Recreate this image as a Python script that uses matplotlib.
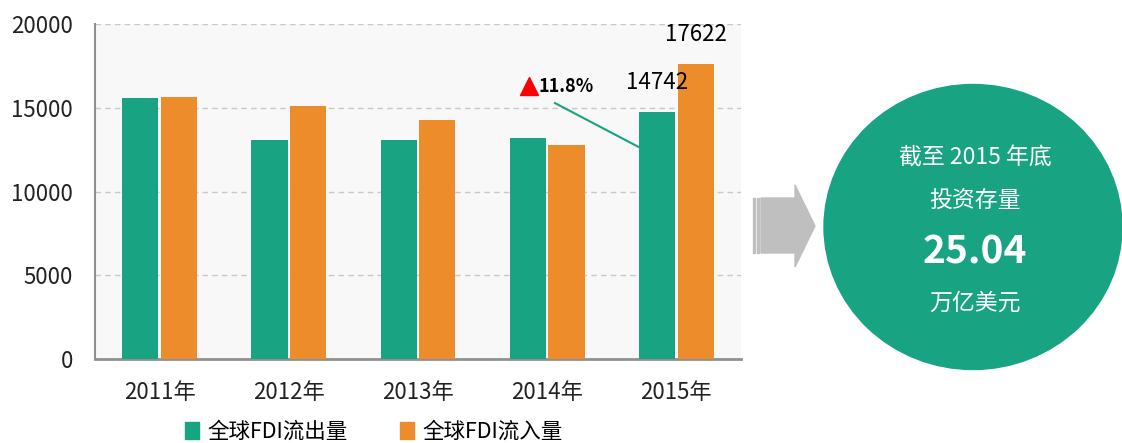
import matplotlib
matplotlib.use("Agg")
import matplotlib.pyplot as plt
import numpy as np
from matplotlib.patches import Patch, Ellipse, Polygon, Rectangle

plt.rcParams['font.family'] = ['Noto Sans CJK SC', 'DejaVu Sans']
plt.rcParams['axes.unicode_minus'] = False

# 数据
years = ['2011年', '2012年', '2013年', '2014年', '2015年']
outflow = [15600, 13100, 13100, 13170, 14742]   # 全球FDI流出量
inflow = [15650, 15100, 14280, 12780, 17622]    # 全球FDI流入量
series_names = ['全球FDI流出量', '全球FDI流入量']
yticks = [0, 5000, 10000, 15000, 20000]
growth_label = '11.8%'
circle_lines = ['截至 2015 年底', '投资存量', '25.04', '万亿美元']

green = '#18A383'
orange = '#EC8C2A'

fig = plt.figure(figsize=(11.22, 4.43), dpi=100)
ax = fig.add_axes([95 / 1122, 84 / 443, 646 / 1122, 335 / 443])
ax.set_facecolor('#F8F8F8')

x = np.arange(len(years))
w = 0.28
ax.bar(x - 0.15, outflow, width=w, color=green, zorder=3)
ax.bar(x + 0.15, inflow, width=w, color=orange, zorder=3)

ax.set_xlim(-0.5, 4.5)
ax.set_ylim(0, 20000)
ax.set_yticks(yticks)
ax.set_xticks(x)
ax.set_xticklabels(years)
ax.tick_params(axis='both', length=0, labelsize=16, colors='#222222')
ax.tick_params(axis='x', pad=16)
ax.tick_params(axis='y', pad=16)
ax.grid(axis='y', linestyle=(0, (4, 3)), color='#C8C8C8', linewidth=1, zorder=1)
for s in ['top', 'right']:
    ax.spines[s].set_visible(False)
ax.spines['left'].set_color('#909090')
ax.spines['bottom'].set_color('#909090')
ax.spines['bottom'].set_linewidth(2)
ax.spines['left'].set_linewidth(1.5)

# 2015 数值标注
ax.annotate(f'{outflow[-1]}', (x[-1] - 0.15, outflow[-1]), xytext=(0, 21),
            textcoords='offset points', ha='center', va='center', fontsize=16, zorder=5)
ax.annotate(f'{inflow[-1]}', (x[-1] + 0.15, inflow[-1]), xytext=(0, 21),
            textcoords='offset points', ha='center', va='center', fontsize=16, zorder=5)

# 增长率标注
ax.plot([3.06, 3.87], [15280, 12000], color=green, linewidth=1.5, zorder=2)
ax.plot([2.86], [16300], marker='^', color='#FF0000', markersize=13, zorder=5)
ax.text(2.93, 16250, growth_label, fontsize=13, fontweight='bold', va='center', ha='left', zorder=5)

# 图例
handles = [Patch(color=green), Patch(color=orange)]
fig.legend(handles, series_names, loc='center', bbox_to_anchor=(374 / 1122, 11 / 443), ncol=2,
           frameon=False, fontsize=15.5, handlelength=0.65, handleheight=0.8,
           handletextpad=0.4, columnspacing=2.4)

# 右侧箭头和圆
ov = fig.add_axes([0, 0, 1, 1], zorder=-1)
ov.set_xlim(0, 1122)
ov.set_ylim(443, 0)
ov.axis('off')
ov.patch.set_alpha(0)

gray = '#BFBFBF'
ov.add_patch(Rectangle((753, 198), 2, 55, color=gray))
ov.add_patch(Rectangle((757, 198), 2, 55, color=gray))
ov.add_patch(Polygon([(761, 198), (795, 198), (795, 185), (815, 226), (795, 267),
                      (795, 253), (761, 253)], closed=True, color=gray))

ov.add_patch(Ellipse((973, 227), 298, 285, color=green))
ov.text(975, 158, circle_lines[0], color='white', fontsize=16.5, ha='center', va='center')
ov.text(975, 200, circle_lines[1], color='white', fontsize=16.5, ha='center', va='center')
ov.text(975, 252, circle_lines[2], color='white', fontsize=28, fontweight='bold',
        ha='center', va='center')
ov.text(975, 303, circle_lines[3], color='white', fontsize=16.5, ha='center', va='center')

fig.savefig('out.png', dpi=100)
